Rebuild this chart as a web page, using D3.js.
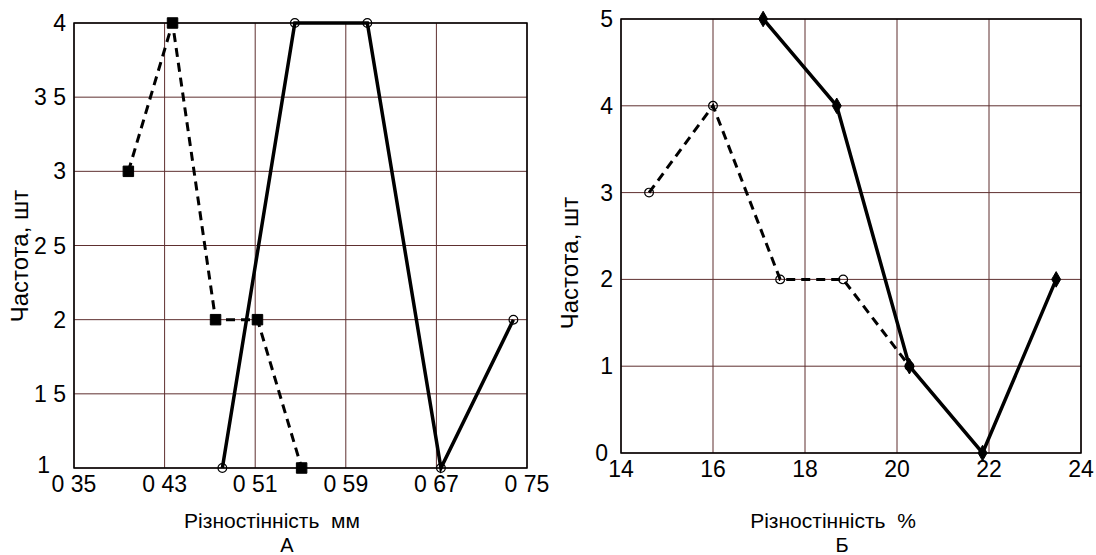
<!DOCTYPE html>
<html>
<head>
<meta charset="utf-8">
<script src="https://cdn.jsdelivr.net/npm/d3@7"></script>
<style>
  body { margin: 0; background: #fff; }
  text { font-family: "Liberation Sans", Arial, sans-serif; fill: #000; white-space: pre; }
</style>
</head>
<body>
<svg id="chart" width="1096" height="555"></svg>
<script>
"use strict";

// panel A - wall thickness variation, mm
var xTicksA = [0.35, 0.43, 0.51, 0.59, 0.67, 0.75];
var yTicksA = [1, 1.5, 2, 2.5, 3, 3.5, 4];
var dashedA = [[0.398, 3], [0.437, 4], [0.475, 2], [0.512, 2], [0.551, 1]];
var solidA  = [[0.481, 1], [0.545, 4], [0.609, 4], [0.674, 1], [0.738, 2]];

// panel B - wall thickness variation, %
var xTicksB = [14, 16, 18, 20, 22, 24];
var yTicksB = [0, 1, 2, 3, 4, 5];
var dashedB = [[14.61, 3], [16.0, 4], [17.46, 2], [18.83, 2], [20.27, 1]];
var solidB  = [[17.09, 5], [18.69, 4], [20.27, 1], [21.86, 0], [23.46, 2]];

var svg = d3.select("#chart");
var gridColor = "#5e2f2f";

function fmt(v) {
    return String(v).replace(".", " ");
}

function drawPanel(cfg) {
    var x = d3.scaleLinear().domain(cfg.xDomain).range([cfg.left, cfg.right]);
    var y = d3.scaleLinear().domain(cfg.yDomain).range([cfg.bottom, cfg.top]);
    var g = svg.append("g");

    // grid
    g.selectAll("line.vgrid").data(cfg.xTicks).enter().append("line")
        .attr("x1", function(d) { return x(d); }).attr("x2", function(d) { return x(d); })
        .attr("y1", cfg.top).attr("y2", cfg.bottom)
        .attr("stroke", gridColor).attr("stroke-width", 1);
    g.selectAll("line.hgrid").data(cfg.yTicks).enter().append("line")
        .attr("x1", cfg.left).attr("x2", cfg.right)
        .attr("y1", function(d) { return y(d); }).attr("y2", function(d) { return y(d); })
        .attr("stroke", gridColor).attr("stroke-width", 1);

    // frame
    g.append("rect")
        .attr("x", cfg.left).attr("y", cfg.top)
        .attr("width", cfg.right - cfg.left).attr("height", cfg.bottom - cfg.top)
        .attr("fill", "none").attr("stroke", "#000").attr("stroke-width", 1.5);

    // tick labels
    g.selectAll("text.xt").data(cfg.xTicks).enter().append("text")
        .attr("x", function(d) { return x(d); })
        .attr("y", cfg.bottom + 24)
        .attr("text-anchor", "middle")
        .attr("font-size", "23px")
        .text(fmt);
    // first y label sits lower-left of the corner, like the original
    g.selectAll("text.yt").data(cfg.yTicks).enter().append("text")
        .attr("x", function(d, i) { return cfg.left - 8 - (i === 0 ? cfg.firstShift : 0); })
        .attr("y", function(d, i) { return y(d) + 8 - (i === 0 ? cfg.firstLift : 0); })
        .attr("text-anchor", "end")
        .attr("font-size", "23px")
        .text(fmt);

    // axis titles
    g.append("text")
        .attr("transform", "translate(" + cfg.yTitleX + "," + cfg.yTitleY + ") rotate(-90)")
        .attr("text-anchor", "middle")
        .attr("font-size", "24px")
        .text("Частота, шт");
    g.append("text")
        .attr("x", cfg.xTitleX).attr("y", 528)
        .attr("text-anchor", "middle")
        .attr("font-size", "21px")
        .text(cfg.xTitle);
    g.append("text")
        .attr("x", cfg.letterX).attr("y", 552)
        .attr("text-anchor", "middle")
        .attr("font-size", "20px")
        .text(cfg.letter);

    var line = d3.line()
        .x(function(d) { return x(d[0]); })
        .y(function(d) { return y(d[1]); });

    g.append("path").datum(cfg.dashed).attr("d", line)
        .attr("fill", "none").attr("stroke", "#000")
        .attr("stroke-width", 3).attr("stroke-dasharray", "9,6");
    g.append("path").datum(cfg.solid).attr("d", line)
        .attr("fill", "none").attr("stroke", "#000").attr("stroke-width", 3.5);

    cfg.markers(g, cfg.dashed, cfg.dashedMarker, x, y);
    cfg.markers(g, cfg.solid, cfg.solidMarker, x, y);
}

function addMarkers(g, data, type, x, y) {
    var sym = {
        square:  d3.symbol().type(d3.symbolSquare).size(110),
        diamond: d3.symbol().type(d3.symbolDiamond).size(70),
        circle:  d3.symbol().type(d3.symbolCircle).size(60)
    }[type];
    g.selectAll(null).data(data).enter().append("path")
        .attr("d", sym)
        .attr("transform", function(d) { return "translate(" + x(d[0]) + "," + y(d[1]) + ")"; })
        .attr("fill", type === "circle" ? "none" : "#000")
        .attr("stroke", "#000")
        .attr("stroke-width", type === "circle" ? 1.2 : 1);
}

drawPanel({
    left: 74, right: 527, top: 23, bottom: 468,
    xDomain: [0.35, 0.75], yDomain: [1, 4],
    xTicks: xTicksA, yTicks: yTicksA,
    dashed: dashedA, solid: solidA,
    dashedMarker: "square", solidMarker: "circle",
    markers: addMarkers,
    firstShift: 16, firstLift: 3,
    yTitleX: 28, yTitleY: 256,
    xTitle: "Різностінність  мм", xTitleX: 272,
    letter: "А", letterX: 287
});

drawPanel({
    left: 621, right: 1081, top: 19, bottom: 453,
    xDomain: [14, 24], yDomain: [0, 5],
    xTicks: xTicksB, yTicks: yTicksB,
    dashed: dashedB, solid: solidB,
    dashedMarker: "circle", solidMarker: "diamond",
    markers: addMarkers,
    firstShift: 5, firstLift: 0,
    yTitleX: 578, yTitleY: 263,
    xTitle: "Різностінність  %", xTitleX: 833,
    letter: "Б", letterX: 842
});
</script>
</body>
</html>
